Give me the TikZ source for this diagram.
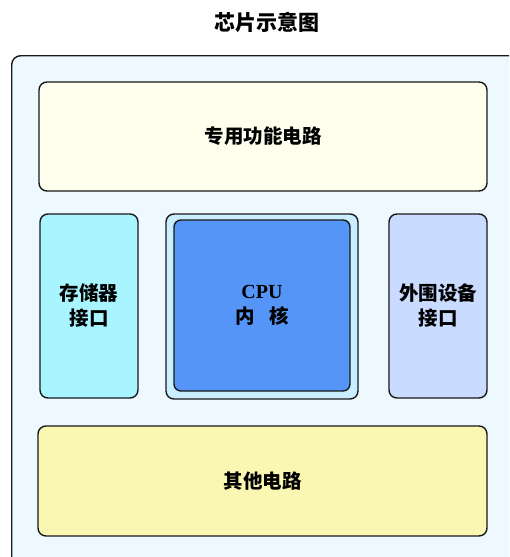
\documentclass[tikz,border=0pt]{standalone}
\usepackage{fontspec}
\setmainfont{Liberation Serif}
\newfontfamily\cjk{Noto Sans CJK SC}
\definecolor{outerbg}{HTML}{EEF8FF}
\definecolor{topbg}{HTML}{FFFFEE}
\definecolor{membg}{HTML}{A8F5FF}
\definecolor{cpuout}{HTML}{C9EEFF}
\definecolor{cpuin}{HTML}{5595F7}
\definecolor{periph}{HTML}{C9DBFF}
\definecolor{botbg}{HTML}{FAF7B3}
\begin{document}
\begin{tikzpicture}[x=1pt,y=-1pt,
  blk/.style={draw=black!90, line width=1.4pt, rounded corners=8pt, inner sep=0pt, align=center, font=\cjk\bfseries\fontsize{19.5}{25}\selectfont},
]
\useasboundingbox (0,0) rectangle (509,557);
\clip (0,0) rectangle (509,557);
\node[font=\cjk\bfseries\fontsize{21}{24}\selectfont] (title) at (267,22) {芯片示意图};
\node[draw=black!90, line width=1.4pt, rounded corners=9pt, fill=outerbg, minimum width=520pt, minimum height=520pt, anchor=north west] (chip) at (11,55) {};
\node[blk, fill=topbg, minimum width=448pt, minimum height=109pt] (func) at (263,136.5) {专用功能电路};
\node[blk, fill=membg, minimum width=98pt, minimum height=184pt] (mem) at (89,306) {存储器\\接口};
\node[blk, fill=cpuout, minimum width=192pt, minimum height=185pt] (cpuo) at (262,306.5) {};
\node[blk, fill=cpuin, minimum width=176pt, minimum height=171pt, rounded corners=7pt] (cpu) at (262,305.5) {{\rmfamily\bfseries\fontsize{20}{25}\selectfont CPU}\\内\hspace{0.75em}核};
\node[blk, fill=periph, minimum width=98pt, minimum height=184pt] (per) at (438,306) {外围设备\\接口};
\node[blk, fill=botbg, minimum width=449pt, minimum height=110pt] (other) at (262.5,481) {其他电路};
\end{tikzpicture}
\end{document}
